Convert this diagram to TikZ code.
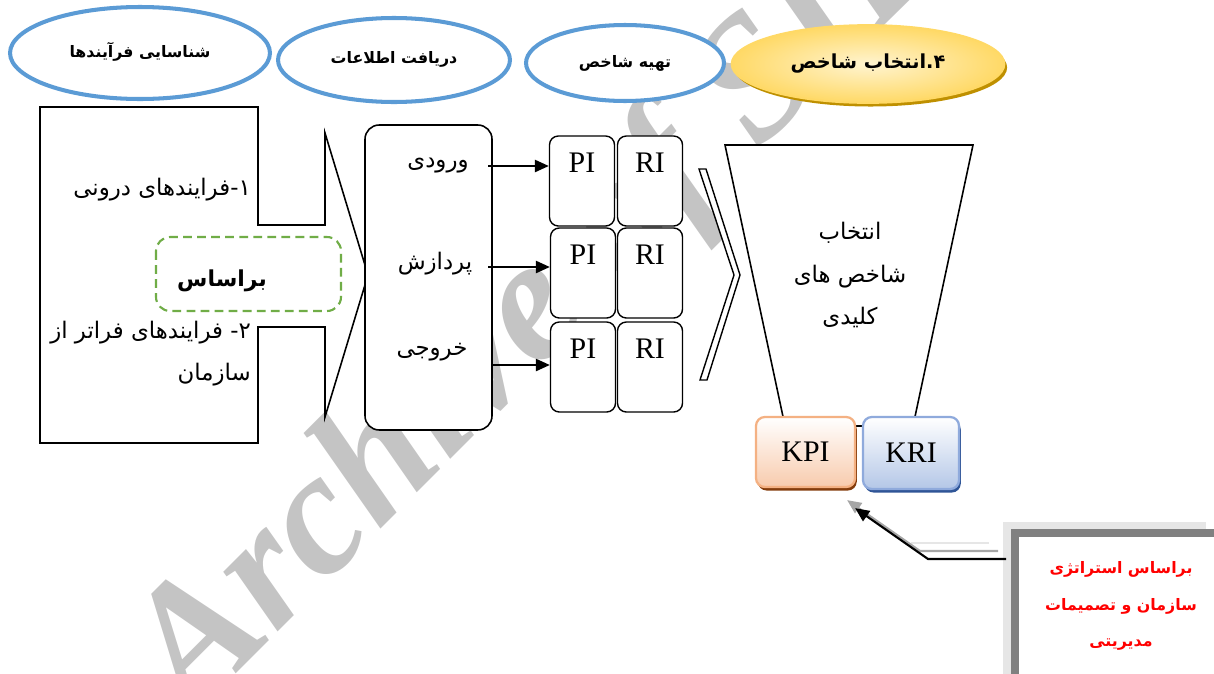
\documentclass[tikz,border=0pt]{standalone}
\usepackage{fontspec}
\setmainfont{Liberation Serif}
\newfontfamily\fa[Script=Arabic]{DejaVu Sans}
\TeXXeTstate=1
\usetikzlibrary{shapes.geometric,shadows,arrows.meta,positioning}
\definecolor{phaseblue}{HTML}{5B9BD5}
\definecolor{goalgold}{HTML}{FFD966}
\definecolor{goallight}{HTML}{FFF4D0}
\definecolor{goaldark}{HTML}{BF9000}
\definecolor{basisgreen}{HTML}{70AD47}
\definecolor{kpiline}{HTML}{F4B183}
\definecolor{kpifill}{HTML}{F8CBAD}
\definecolor{kpidark}{HTML}{843C0C}
\definecolor{kriline}{HTML}{8FAADC}
\definecolor{krifill}{HTML}{B4C7E7}
\definecolor{kridark}{HTML}{2F5597}
\definecolor{notegray}{HTML}{808080}
\definecolor{noteshade}{HTML}{E6E6E6}
\definecolor{wmgray}{HTML}{C4C4C4}
\newcommand{\rl}[1]{\beginR #1\endR}
\tikzset{
  phase/.style={ellipse,draw=phaseblue,line width=2.3pt,fill=white,
    font=\fa\bfseries\fontsize{9}{11}\selectfont},
  fatext/.style={font=\fa\fontsize{13}{24}\selectfont},
  indbox/.style={draw,rounded corners=5pt,line width=0.8pt,fill=white,
    minimum width=1.3cm,minimum height=1.8cm,
    label={[anchor=north,inner sep=10pt,font=\fontsize{17}{19}\selectfont]north:#1}},
  flow/.style={line width=1.1pt,-{Triangle[length=8pt,width=7pt]}},
  keybox/.style={rounded corners=5pt,line width=1.3pt,top color=white,
    font=\fontsize{17}{20}\selectfont}
}
\begin{document}
\begin{tikzpicture}[x=0.02cm,y=-0.02cm]
\useasboundingbox (0,0) rectangle (1214,673);
\node[font=\fontsize{100}{100}\selectfont\bfseries\itshape,text=wmgray,rotate=45,anchor=base west] (wm) at (188,722) {Archive of SID};

\node[phase,minimum width=5.2cm,minimum height=1.84cm] (ident) at (140,53) {\raisebox{3pt}{\rl{شناسایی فرآیندها}}};
\node[phase,minimum width=4.64cm,minimum height=1.68cm] (gather) at (394,60) {\raisebox{3pt}{\rl{دریافت اطلاعات}}};
\node[phase,minimum width=3.96cm,minimum height=1.52cm] (prepare) at (625,63) {\rl{تهیه شاخص}};
\node[ellipse,draw=goalgold,line width=1pt,inner color=goallight,outer color=goalgold,
  drop shadow={shadow xshift=1.5pt,shadow yshift=-2pt,fill=goaldark,opacity=1},
  minimum width=5.46cm,minimum height=1.56cm,font=\fa\bfseries\fontsize{11}{13}\selectfont] (choose) at (868,64) {\raisebox{-2pt}{\rl{۴.انتخاب شاخص}}};

\draw[line width=0.9pt,fill=white] (40,107) -- (258,107) -- (258,225) -- (325,225) -- (325,133) -- (368,275)
  -- (325,417) -- (325,327) -- (258,327) -- (258,443) -- (40,443) -- cycle;
\node[fatext,anchor=east] (inner) at (257,190) {\rl{۱-فرایندهای درونی}};
\node[fatext,anchor=east] (outer) at (257,333) {\rl{۲- فرایندهای فراتر از}};
\node[fatext,anchor=east] (org) at (257,375) {\rl{سازمان}};
\draw[basisgreen,line width=1.2pt,rounded corners=8pt,dash pattern=on 5pt off 3pt] (156,237) rectangle (341,311);
\node[font=\fa\bfseries\fontsize{12.5}{15}\selectfont] (basis) at (222,281) {\rl{براساس}};

\node[draw,rounded corners=8pt,line width=0.9pt,fill=white,minimum width=2.54cm,minimum height=6.1cm] (stages) at (428.5,277.5) {};
\node[fatext] (input) at (438,166) {\rl{ورودی}};
\node[fatext] (process) at (435,264) {\rl{پردازش}};
\node[fatext] (output) at (432,352) {\rl{خروجی}};

\node[indbox=PI] (pi1) at (582,181) {};
\node[indbox=RI] (ri1) at (650,181) {};
\node[indbox=PI] (pi2) at (583,273) {};
\node[indbox=RI] (ri2) at (650,273) {};
\node[indbox=PI] (pi3) at (583,367) {};
\node[indbox=RI] (ri3) at (650,367) {};

\coordinate (s1) at (488,166);
\coordinate (s2) at (488,267);
\coordinate (s3) at (493,365);
\draw[flow] (s1) -- (s1 -| pi1.west);
\draw[flow] (s2) -- (s2 -| pi2.west);
\draw[flow] (s3) -- (s3 -| pi3.west);

\draw[line width=0.8pt,fill=white] (699,169) -- (706,169) -- (740,275) -- (707,380) -- (700,380) -- (734,275) -- cycle;
\draw[line width=0.9pt,fill=white] (725,145) -- (973,145) -- (913,426) -- (785,426) -- cycle;
\node[fatext,align=center] (keytext) at (850,275) {\rl{انتخاب}\\\rl{شاخص های}\\\rl{کلیدی}};

\node[keybox,draw=kpiline,bottom color=kpifill,minimum width=1.98cm,minimum height=1.4cm,
  drop shadow={shadow xshift=1pt,shadow yshift=-2pt,fill=kpidark,opacity=1}] (kpi) at (805.5,452) {KPI};
\node[keybox,draw=kriline,bottom color=krifill,minimum width=1.92cm,minimum height=1.44cm,
  drop shadow={shadow xshift=1pt,shadow yshift=-2pt,fill=kridark,opacity=1}] (kri) at (911,453) {KRI};

\fill[noteshade] (1003,522) rectangle (1206,690);
\draw[notegray,line width=4.5pt,fill=white] (1015,533) rectangle (1240,700);
\node[font=\fa\bfseries\fontsize{9}{21}\selectfont,text=red,align=center] (note) at (1121,606)
  {\rl{براساس استراتژی}\\\rl{سازمان و تصمیمات}\\\rl{مدیریتی}};

\coordinate (noteport) at (1006,559);
\coordinate (bend) at (928,559);
\draw[noteshade,line width=1.2pt,transform canvas={shift={(-17,-16)}}] (noteport) -- (bend);
\draw[notegray!70,line width=1.2pt,-{Triangle[length=8pt,width=7pt]},transform canvas={shift={(-8,-8)}}]
  (noteport) -- (bend) -- ([shift={(-1,20)}]kpi.south east);
\draw[line width=1.2pt,-{Triangle[length=8pt,width=7pt]}] (noteport) -- (bend) -- ([shift={(-1,20)}]kpi.south east);
\end{tikzpicture}
\end{document}
